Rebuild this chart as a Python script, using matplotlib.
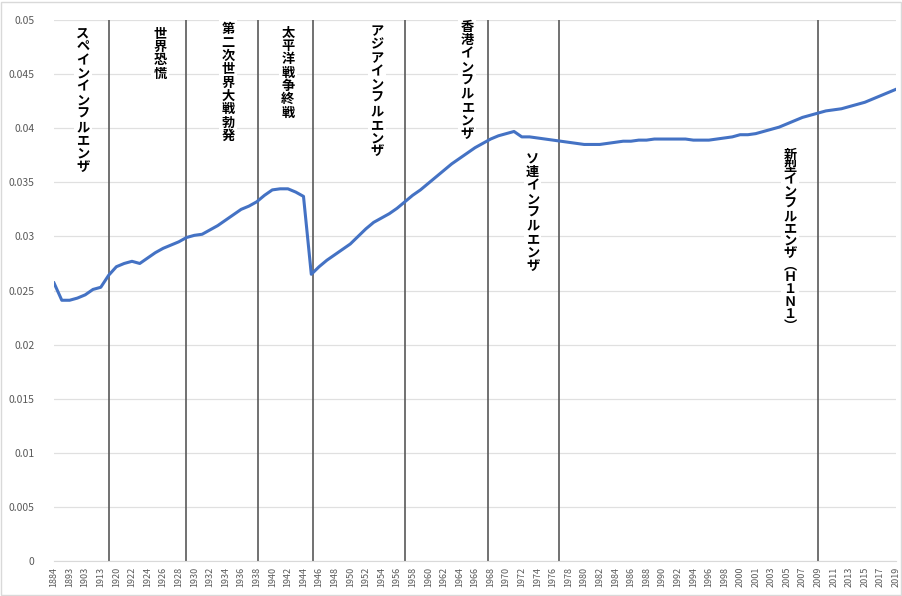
import numpy as np
import matplotlib.pyplot as plt
from matplotlib.patches import Rectangle

plt.rcParams['font.family'] = ['Noto Sans CJK JP', 'DejaVu Sans']

# category labels shown on the axis (every other category is labelled)
tick_labels = ["1884", "1893", "1903", "1913"] + [str(y) for y in range(1920, 2001, 2)] + \
              [str(y) for y in range(2001, 2020, 2)]

# series values, one per category (109 categories)
values = [0.0257, 0.0241, 0.0241, 0.0243, 0.0246, 0.0251, 0.0253, 0.0264, 0.0272, 0.0275,
          0.0277, 0.0275, 0.0280, 0.0285, 0.0289, 0.0292, 0.0295, 0.0299, 0.0301, 0.0302,
          0.0306, 0.0310, 0.0315, 0.0320, 0.0325, 0.0328, 0.0332, 0.0338, 0.0343, 0.0344,
          0.0344, 0.0341, 0.0337, 0.0265, 0.0272, 0.0278, 0.0283, 0.0288, 0.0293, 0.0300,
          0.0307, 0.0313, 0.0317, 0.0321, 0.0326, 0.0332, 0.0338, 0.0343, 0.0349, 0.0355,
          0.0361, 0.0367, 0.0372, 0.0377, 0.0382, 0.0386, 0.0390, 0.0393, 0.0395, 0.0397,
          0.0392, 0.0392, 0.0391, 0.0390, 0.0389, 0.0388, 0.0387, 0.0386, 0.0385, 0.0385,
          0.0385, 0.0386, 0.0387, 0.0388, 0.0388, 0.0389, 0.0389, 0.0390, 0.0390, 0.0390,
          0.0390, 0.0390, 0.0389, 0.0389, 0.0389, 0.0390, 0.0391, 0.0392, 0.0394, 0.0394,
          0.0395, 0.0397, 0.0399, 0.0401, 0.0404, 0.0407, 0.0410, 0.0412, 0.0414, 0.0416,
          0.0417, 0.0418, 0.0420, 0.0422, 0.0424, 0.0427, 0.0430, 0.0433, 0.0436]

# events: category position of the line, label, label x, label top
event_lines = [7.05, 16.9, 26.2, 33.2, 45.0, 55.7, 64.8, 98.0]
event_labels = ["スペインインフルエンザ", "世界恐慌", "第二次世界大戦勃発", "太平洋戦争終戦",
                "アジアインフルエンザ", "香港インフルエンザ", "ソ連インフルエンザ",
                "新型インフルエンザ︵Ｈ１Ｎ１︶"]
label_x = [3.7, 13.6, 22.3, 30.0, 41.4, 53.0, 61.4, 94.4]
label_top = [0.0494, 0.0494, 0.0498, 0.0495, 0.0496, 0.0500, 0.0378, 0.0382]
label_spacing = [0.94, 0.94, 0.94, 0.94, 0.94, 0.94, 0.94, 0.84]

fig = plt.figure(figsize=(9.03, 5.96), dpi=100)
ax = fig.add_axes([0.0598, 0.0587, 0.9325, 0.9077])
fig.patches.append(Rectangle((0.001, 0.001), 0.997, 0.996, transform=fig.transFigure,
                             fill=False, edgecolor='#d9d9d9', linewidth=1))

x = np.arange(len(values))
ax.plot(x, values, color='#4472C4', linewidth=2.2, zorder=3)

for pos in event_lines:
    ax.axvline(pos, ymin=0, ymax=1, color='#595959', linewidth=1.2, zorder=2)

for lab, lx, ly, ls in zip(event_labels, label_x, label_top, label_spacing):
    ax.text(lx, ly, "\n".join(lab), ha='center', va='top', fontsize=9.5,
            fontweight='bold', linespacing=ls, color='#000000', zorder=4,
            bbox=dict(facecolor='white', edgecolor='none', pad=1.5))

ax.set_xlim(0, len(values) - 1)
ax.set_ylim(0, 0.05)
ax.set_yticks(np.arange(0, 0.0501, 0.005))
ax.set_yticklabels(["0", "0.005", "0.01", "0.015", "0.02", "0.025", "0.03",
                    "0.035", "0.04", "0.045", "0.05"])
ax.set_xticks(x[::2])
ax.set_xticklabels(tick_labels, rotation=90)
ax.tick_params(axis='y', length=0, labelsize=7.5, labelcolor='#595959', pad=14)
ax.tick_params(axis='x', length=0, labelsize=6.5, labelcolor='#595959', pad=4)

ax.grid(axis='y', color='#e0e0e0', linewidth=0.9)
ax.set_axisbelow(True)
for s in ['top', 'right', 'left']:
    ax.spines[s].set_visible(False)
ax.spines['bottom'].set_color('#d9d9d9')

fig.savefig("out.png", dpi=100)
